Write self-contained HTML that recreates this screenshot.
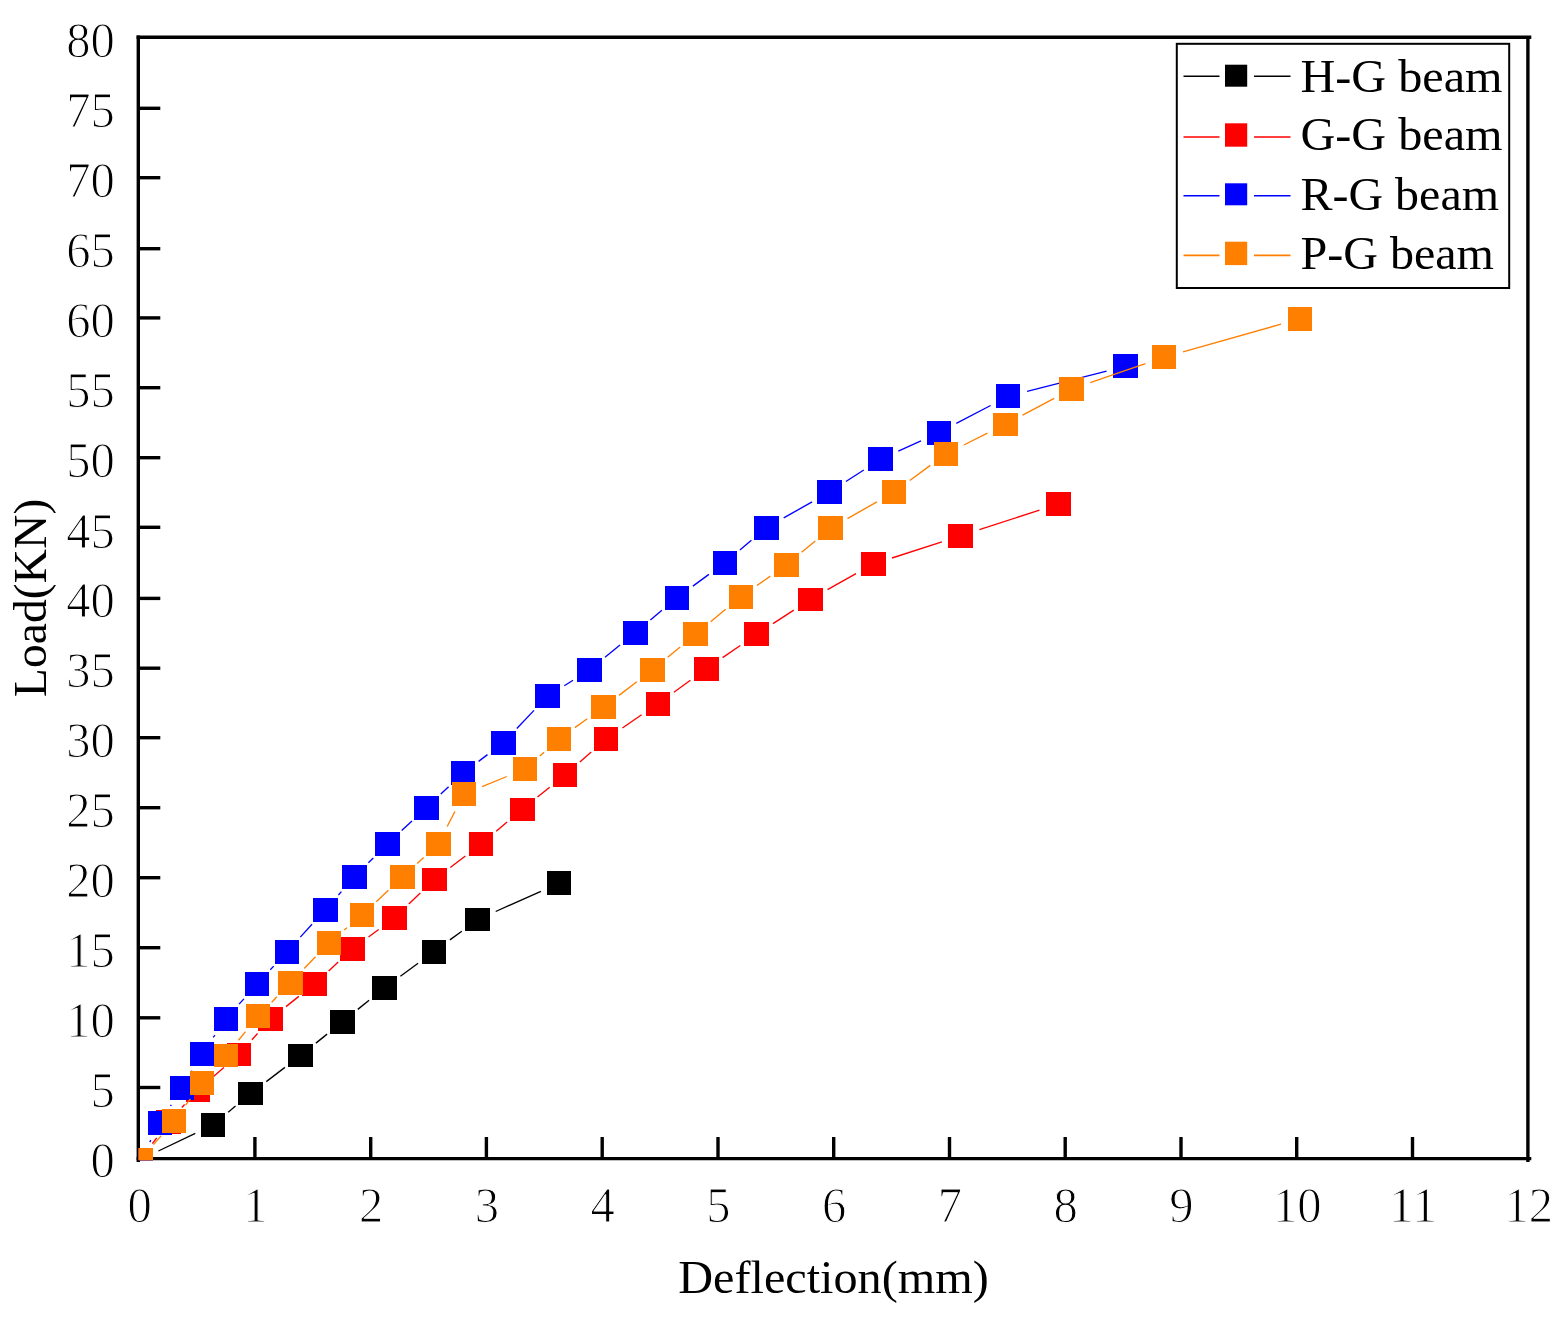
<!DOCTYPE html>
<html lang="en"><head><meta charset="utf-8"><title>Load-Deflection curves</title>
<style>html,body{margin:0;padding:0;background:#fff}svg{display:block}text{font-family:"Liberation Serif",serif;fill:#000}</style></head><body>
<svg width="1568" height="1325" viewBox="0 0 1568 1325">
<rect width="1568" height="1325" fill="#fff"/>
<defs><clipPath id="plot"><rect x="138.4" y="36" width="1391" height="1124.2"/></clipPath></defs>
<g stroke="#000" stroke-width="3.4" fill="none">
<path d="M138.3 35.6V1162"/>
<path d="M136.6 1158.6H1531.3"/>
<path d="M136.6 37.2H1531.3"/>
<path d="M1527.9 36V1162"/>
<path d="M138 1087.5H160.3"/>
<path d="M138 1017.8H160.3"/>
<path d="M138 947.7H160.3"/>
<path d="M138 877.7H160.3"/>
<path d="M138 807.7H160.3"/>
<path d="M138 737.7H160.3"/>
<path d="M138 668.2H160.3"/>
<path d="M138 598.4H160.3"/>
<path d="M138 527.3H160.3"/>
<path d="M138 457.7H160.3"/>
<path d="M138 387.7H160.3"/>
<path d="M138 317.9H160.3"/>
<path d="M138 248.7H160.3"/>
<path d="M138 177.7H160.3"/>
<path d="M138 108.3H160.3"/>
<path d="M254.9 1158V1137"/>
<path d="M370.7 1158V1137"/>
<path d="M486.4 1158V1137"/>
<path d="M602.2 1158V1137"/>
<path d="M718.0 1158V1137"/>
<path d="M833.7 1158V1137"/>
<path d="M949.5 1158V1137"/>
<path d="M1065.2 1158V1137"/>
<path d="M1181.0 1158V1137"/>
<path d="M1296.7 1158V1137"/>
<path d="M1412.5 1158V1137"/>
</g>
<g clip-path="url(#plot)">
<g stroke="#000000" stroke-width="1.35" fill="none">
<line x1="158.4" y1="1151.0" x2="195.3" y2="1133.3"/>
<line x1="228.2" y1="1112.2" x2="235.5" y2="1106.1"/>
<line x1="266.3" y1="1081.6" x2="284.9" y2="1067.4"/>
<line x1="315.9" y1="1043.1" x2="327.1" y2="1034.1"/>
<line x1="357.8" y1="1009.4" x2="369.1" y2="1000.3"/>
<line x1="400.4" y1="976.3" x2="418.1" y2="963.3"/>
<line x1="449.9" y1="939.9" x2="461.8" y2="931.2"/>
<line x1="495.7" y1="911.5" x2="540.9" y2="891.3"/>
</g>
<g fill="#000000" shape-rendering="crispEdges">
<rect x="128.3" y="1147.6" width="24.6" height="23.8"/>
<rect x="200.8" y="1112.9" width="24.6" height="23.8"/>
<rect x="238.3" y="1081.6" width="24.6" height="23.8"/>
<rect x="288.3" y="1043.6" width="24.6" height="23.8"/>
<rect x="330.1" y="1009.8" width="24.6" height="23.8"/>
<rect x="372.2" y="976.1" width="24.6" height="23.8"/>
<rect x="421.7" y="939.7" width="24.6" height="23.8"/>
<rect x="465.4" y="907.6" width="24.6" height="23.8"/>
<rect x="546.6" y="871.4" width="24.6" height="23.8"/>
</g>
<g stroke="#FF0000" stroke-width="1.35" fill="none">
<line x1="152.4" y1="1143.7" x2="156.7" y2="1137.8"/>
<line x1="181.9" y1="1107.5" x2="184.6" y2="1104.5"/>
<line x1="212.9" y1="1077.1" x2="223.9" y2="1067.4"/>
<line x1="251.9" y1="1039.8" x2="257.5" y2="1033.5"/>
<line x1="286.0" y1="1006.6" x2="298.8" y2="996.4"/>
<line x1="328.7" y1="970.9" x2="338.2" y2="962.1"/>
<line x1="368.5" y1="937.0" x2="378.7" y2="929.5"/>
<line x1="408.8" y1="904.1" x2="420.3" y2="893.1"/>
<line x1="450.3" y1="867.5" x2="465.4" y2="856.0"/>
<line x1="496.2" y1="831.3" x2="507.1" y2="822.1"/>
<line x1="537.5" y1="797.0" x2="549.7" y2="787.2"/>
<line x1="579.9" y1="761.9" x2="591.2" y2="752.0"/>
<line x1="622.4" y1="728.0" x2="641.6" y2="714.8"/>
<line x1="673.9" y1="692.2" x2="690.4" y2="680.3"/>
<line x1="722.6" y1="657.6" x2="740.3" y2="645.5"/>
<line x1="773.0" y1="623.6" x2="793.8" y2="610.1"/>
<line x1="827.5" y1="589.7" x2="856.0" y2="573.7"/>
<line x1="892.0" y1="558.0" x2="941.9" y2="541.8"/>
<line x1="979.4" y1="529.7" x2="1039.5" y2="510.1"/>
</g>
<g fill="#FF0000" shape-rendering="crispEdges">
<rect x="128.3" y="1147.6" width="24.6" height="23.8"/>
<rect x="156.2" y="1110.1" width="24.6" height="23.8"/>
<rect x="185.7" y="1078.1" width="24.6" height="23.8"/>
<rect x="226.5" y="1042.6" width="24.6" height="23.8"/>
<rect x="258.3" y="1006.9" width="24.6" height="23.8"/>
<rect x="301.9" y="972.3" width="24.6" height="23.8"/>
<rect x="340.4" y="936.9" width="24.6" height="23.8"/>
<rect x="382.2" y="905.8" width="24.6" height="23.8"/>
<rect x="422.3" y="867.6" width="24.6" height="23.8"/>
<rect x="468.8" y="832.1" width="24.6" height="23.8"/>
<rect x="509.9" y="797.5" width="24.6" height="23.8"/>
<rect x="552.7" y="762.9" width="24.6" height="23.8"/>
<rect x="593.8" y="727.2" width="24.6" height="23.8"/>
<rect x="645.6" y="691.8" width="24.6" height="23.8"/>
<rect x="694.1" y="656.9" width="24.6" height="23.8"/>
<rect x="744.2" y="622.4" width="24.6" height="23.8"/>
<rect x="798.0" y="587.5" width="24.6" height="23.8"/>
<rect x="860.9" y="552.1" width="24.6" height="23.8"/>
<rect x="948.4" y="523.9" width="24.6" height="23.8"/>
<rect x="1045.9" y="492.1" width="24.6" height="23.8"/>
</g>
<g stroke="#0000FF" stroke-width="1.35" fill="none">
<line x1="149.8" y1="1142.1" x2="150.8" y2="1140.1"/>
<line x1="170.5" y1="1106.0" x2="171.3" y2="1104.8"/>
<line x1="191.8" y1="1071.1" x2="192.1" y2="1070.7"/>
<line x1="213.2" y1="1037.4" x2="214.9" y2="1035.1"/>
<line x1="239.1" y1="1004.1" x2="243.9" y2="998.9"/>
<line x1="270.3" y1="969.7" x2="273.7" y2="966.1"/>
<line x1="300.3" y1="937.1" x2="312.0" y2="924.3"/>
<line x1="338.4" y1="895.0" x2="341.4" y2="891.6"/>
<line x1="368.4" y1="862.8" x2="373.3" y2="858.0"/>
<line x1="401.7" y1="830.6" x2="412.0" y2="821.0"/>
<line x1="440.8" y1="794.1" x2="448.6" y2="786.8"/>
<line x1="478.6" y1="761.4" x2="487.5" y2="754.6"/>
<line x1="516.8" y1="728.5" x2="534.0" y2="710.4"/>
<line x1="564.3" y1="685.7" x2="573.0" y2="680.3"/>
<line x1="605.0" y1="657.3" x2="620.0" y2="645.1"/>
<line x1="650.4" y1="620.0" x2="661.9" y2="610.3"/>
<line x1="692.9" y1="586.1" x2="708.9" y2="574.4"/>
<line x1="739.9" y1="550.1" x2="751.4" y2="540.3"/>
<line x1="783.7" y1="517.9" x2="812.1" y2="501.9"/>
<line x1="845.9" y1="481.5" x2="863.8" y2="470.0"/>
<line x1="898.3" y1="451.1" x2="921.0" y2="440.8"/>
<line x1="956.3" y1="423.4" x2="990.6" y2="405.5"/>
<line x1="1027.1" y1="391.4" x2="1106.6" y2="371.1"/>
</g>
<g fill="#0000FF" shape-rendering="crispEdges">
<rect x="128.3" y="1147.6" width="24.6" height="23.8"/>
<rect x="147.7" y="1110.8" width="24.6" height="23.8"/>
<rect x="169.5" y="1076.2" width="24.6" height="23.8"/>
<rect x="189.8" y="1041.8" width="24.6" height="23.8"/>
<rect x="213.7" y="1006.9" width="24.6" height="23.8"/>
<rect x="244.7" y="972.3" width="24.6" height="23.8"/>
<rect x="274.7" y="939.7" width="24.6" height="23.8"/>
<rect x="313.0" y="897.9" width="24.6" height="23.8"/>
<rect x="342.2" y="864.9" width="24.6" height="23.8"/>
<rect x="374.9" y="832.1" width="24.6" height="23.8"/>
<rect x="414.2" y="795.7" width="24.6" height="23.8"/>
<rect x="450.6" y="761.4" width="24.6" height="23.8"/>
<rect x="490.9" y="730.8" width="24.6" height="23.8"/>
<rect x="535.3" y="684.3" width="24.6" height="23.8"/>
<rect x="577.4" y="657.9" width="24.6" height="23.8"/>
<rect x="623.0" y="620.7" width="24.6" height="23.8"/>
<rect x="664.7" y="585.8" width="24.6" height="23.8"/>
<rect x="712.5" y="550.9" width="24.6" height="23.8"/>
<rect x="754.2" y="515.7" width="24.6" height="23.8"/>
<rect x="817.0" y="480.3" width="24.6" height="23.8"/>
<rect x="868.1" y="447.4" width="24.6" height="23.8"/>
<rect x="926.6" y="420.7" width="24.6" height="23.8"/>
<rect x="995.7" y="384.4" width="24.6" height="23.8"/>
<rect x="1113.4" y="354.3" width="24.6" height="23.8"/>
</g>
<g stroke="#FF8000" stroke-width="1.35" fill="none">
<line x1="153.5" y1="1144.6" x2="161.0" y2="1135.9"/>
<line x1="185.6" y1="1105.2" x2="190.4" y2="1098.8"/>
<line x1="238.5" y1="1040.2" x2="245.5" y2="1031.6"/>
<line x1="271.7" y1="1002.2" x2="276.9" y2="996.8"/>
<line x1="304.2" y1="968.5" x2="315.5" y2="956.8"/>
<line x1="344.2" y1="930.0" x2="346.9" y2="927.8"/>
<line x1="376.3" y1="901.7" x2="388.4" y2="890.3"/>
<line x1="417.2" y1="863.4" x2="423.7" y2="857.4"/>
<line x1="447.2" y1="826.5" x2="454.9" y2="811.5"/>
<line x1="482.1" y1="786.6" x2="506.8" y2="776.5"/>
<line x1="539.8" y1="756.0" x2="544.1" y2="752.2"/>
<line x1="574.9" y1="727.6" x2="587.3" y2="718.8"/>
<line x1="619.0" y1="695.4" x2="636.8" y2="681.7"/>
<line x1="667.7" y1="657.2" x2="680.2" y2="646.9"/>
<line x1="710.6" y1="621.8" x2="725.6" y2="609.3"/>
<line x1="756.9" y1="585.5" x2="770.4" y2="576.1"/>
<line x1="801.6" y1="552.2" x2="815.3" y2="540.9"/>
<line x1="847.5" y1="518.6" x2="876.9" y2="501.9"/>
<line x1="909.8" y1="480.5" x2="930.3" y2="465.4"/>
<line x1="963.8" y1="445.0" x2="987.5" y2="433.2"/>
<line x1="1022.6" y1="415.2" x2="1054.2" y2="398.3"/>
<line x1="1090.2" y1="382.6" x2="1145.4" y2="363.7"/>
<line x1="1183.0" y1="351.9" x2="1281.0" y2="324.2"/>
</g>
<g fill="#FF8000" shape-rendering="crispEdges">
<rect x="128.3" y="1147.6" width="24.6" height="23.8"/>
<rect x="161.6" y="1109.1" width="24.6" height="23.8"/>
<rect x="189.8" y="1071.1" width="24.6" height="23.8"/>
<rect x="213.7" y="1043.6" width="24.6" height="23.8"/>
<rect x="245.7" y="1004.4" width="24.6" height="23.8"/>
<rect x="278.3" y="970.8" width="24.6" height="23.8"/>
<rect x="316.8" y="930.7" width="24.6" height="23.8"/>
<rect x="349.7" y="903.3" width="24.6" height="23.8"/>
<rect x="390.4" y="864.9" width="24.6" height="23.8"/>
<rect x="425.9" y="832.1" width="24.6" height="23.8"/>
<rect x="451.6" y="782.1" width="24.6" height="23.8"/>
<rect x="512.7" y="757.2" width="24.6" height="23.8"/>
<rect x="546.6" y="727.2" width="24.6" height="23.8"/>
<rect x="591.0" y="695.4" width="24.6" height="23.8"/>
<rect x="640.2" y="657.9" width="24.6" height="23.8"/>
<rect x="683.1" y="622.4" width="24.6" height="23.8"/>
<rect x="728.5" y="584.9" width="24.6" height="23.8"/>
<rect x="774.2" y="552.9" width="24.6" height="23.8"/>
<rect x="818.1" y="516.4" width="24.6" height="23.8"/>
<rect x="881.7" y="480.3" width="24.6" height="23.8"/>
<rect x="933.8" y="441.8" width="24.6" height="23.8"/>
<rect x="992.9" y="412.6" width="24.6" height="23.8"/>
<rect x="1059.3" y="377.1" width="24.6" height="23.8"/>
<rect x="1151.7" y="345.4" width="24.6" height="23.8"/>
<rect x="1287.7" y="306.9" width="24.6" height="23.8"/>
</g>
</g>
<g font-size="51" stroke="#fff" stroke-width="1.1" stroke-linejoin="round">
<text x="90.6" y="1176.9" textLength="24.3" lengthAdjust="spacingAndGlyphs">0</text>
<text x="90.6" y="1107.3" textLength="24.3" lengthAdjust="spacingAndGlyphs">5</text>
<text x="66.3" y="1037.3" textLength="48.6" lengthAdjust="spacingAndGlyphs">10</text>
<text x="66.3" y="967.3" textLength="48.6" lengthAdjust="spacingAndGlyphs">15</text>
<text x="66.3" y="897.3" textLength="48.6" lengthAdjust="spacingAndGlyphs">20</text>
<text x="66.3" y="827.3" textLength="48.6" lengthAdjust="spacingAndGlyphs">25</text>
<text x="66.3" y="757.3" textLength="48.6" lengthAdjust="spacingAndGlyphs">30</text>
<text x="66.3" y="687.3" textLength="48.6" lengthAdjust="spacingAndGlyphs">35</text>
<text x="66.3" y="617.3" textLength="48.6" lengthAdjust="spacingAndGlyphs">40</text>
<text x="66.3" y="547.9" textLength="48.6" lengthAdjust="spacingAndGlyphs">45</text>
<text x="66.3" y="477.3" textLength="48.6" lengthAdjust="spacingAndGlyphs">50</text>
<text x="66.3" y="407.3" textLength="48.6" lengthAdjust="spacingAndGlyphs">55</text>
<text x="66.3" y="337.3" textLength="48.6" lengthAdjust="spacingAndGlyphs">60</text>
<text x="66.3" y="267.3" textLength="48.6" lengthAdjust="spacingAndGlyphs">65</text>
<text x="66.3" y="197.3" textLength="48.6" lengthAdjust="spacingAndGlyphs">70</text>
<text x="66.3" y="126.8" textLength="48.6" lengthAdjust="spacingAndGlyphs">75</text>
<text x="66.3" y="57.3" textLength="48.6" lengthAdjust="spacingAndGlyphs">80</text>
<text x="127.5" y="1222.3" textLength="24.3" lengthAdjust="spacingAndGlyphs">0</text>
<text x="243.3" y="1222.3" textLength="24.3" lengthAdjust="spacingAndGlyphs">1</text>
<text x="359.1" y="1222.3" textLength="24.3" lengthAdjust="spacingAndGlyphs">2</text>
<text x="474.8" y="1222.3" textLength="24.3" lengthAdjust="spacingAndGlyphs">3</text>
<text x="590.6" y="1222.3" textLength="24.3" lengthAdjust="spacingAndGlyphs">4</text>
<text x="706.3" y="1222.3" textLength="24.3" lengthAdjust="spacingAndGlyphs">5</text>
<text x="822.1" y="1222.3" textLength="24.3" lengthAdjust="spacingAndGlyphs">6</text>
<text x="937.8" y="1222.3" textLength="24.3" lengthAdjust="spacingAndGlyphs">7</text>
<text x="1053.5" y="1222.3" textLength="24.3" lengthAdjust="spacingAndGlyphs">8</text>
<text x="1169.3" y="1222.3" textLength="24.3" lengthAdjust="spacingAndGlyphs">9</text>
<text x="1272.9" y="1222.3" textLength="48.6" lengthAdjust="spacingAndGlyphs">10</text>
<text x="1388.7" y="1222.3" textLength="48.6" lengthAdjust="spacingAndGlyphs">11</text>
<text x="1504.4" y="1222.3" textLength="48.6" lengthAdjust="spacingAndGlyphs">12</text>
</g>
<text x="678.3" y="1293.2" font-size="47" textLength="310.5" lengthAdjust="spacingAndGlyphs">Deflection(mm)</text>
<text transform="translate(45.9 697.2) rotate(-90)" font-size="47" textLength="198.5" lengthAdjust="spacingAndGlyphs">Load(KN)</text>
<rect x="1176.8" y="43.8" width="332.4" height="244.2" fill="#fff" stroke="#000" stroke-width="2"/>
<g stroke="#000000" stroke-width="1.6"><line x1="1183.5" y1="76.3" x2="1219.5" y2="76.3"/><line x1="1254" y1="76.3" x2="1290.5" y2="76.3"/></g>
<rect x="1225" y="64.7" width="22.2" height="22" fill="#000000"/>
<text x="1300.5" y="91.9" font-size="46.7" textLength="202" lengthAdjust="spacingAndGlyphs">H-G beam</text>
<g stroke="#FF0000" stroke-width="1.6"><line x1="1183.5" y1="137.0" x2="1219.5" y2="137.0"/><line x1="1254" y1="137.0" x2="1290.5" y2="137.0"/></g>
<rect x="1225" y="123.3" width="22.2" height="23.4" fill="#FF0000"/>
<text x="1300.5" y="150.0" font-size="46.7" textLength="202" lengthAdjust="spacingAndGlyphs">G-G beam</text>
<g stroke="#0000FF" stroke-width="1.6"><line x1="1183.5" y1="195.8" x2="1219.5" y2="195.8"/><line x1="1254" y1="195.8" x2="1290.5" y2="195.8"/></g>
<rect x="1225" y="183.3" width="22.2" height="22" fill="#0000FF"/>
<text x="1300.5" y="210.3" font-size="46.7" textLength="198.5" lengthAdjust="spacingAndGlyphs">R-G beam</text>
<g stroke="#FF8000" stroke-width="1.6"><line x1="1183.5" y1="255.4" x2="1219.5" y2="255.4"/><line x1="1254" y1="255.4" x2="1290.5" y2="255.4"/></g>
<rect x="1225" y="241.7" width="22.2" height="23.4" fill="#FF8000"/>
<text x="1300.5" y="268.6" font-size="46.7" textLength="193.5" lengthAdjust="spacingAndGlyphs">P-G beam</text>
</svg></body></html>
